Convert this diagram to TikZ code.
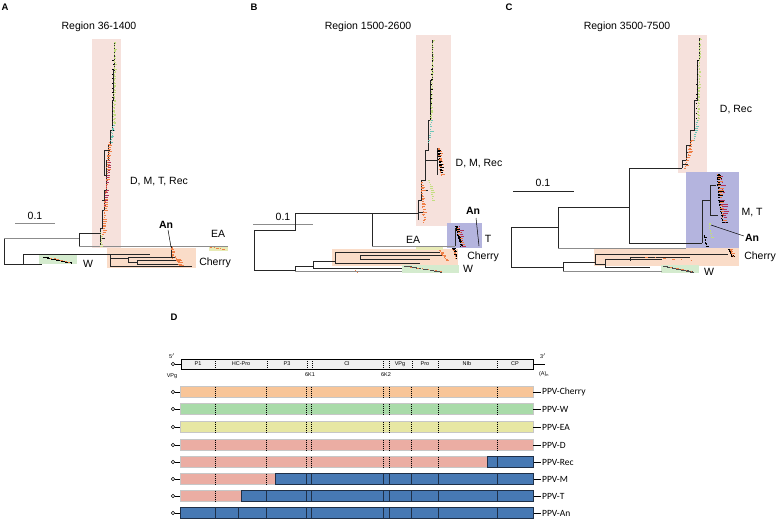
\documentclass[tikz,border=0pt]{standalone}
\usepackage{fontspec}
\setmainfont{Liberation Sans}
\newfontfamily\carl{Carlito}
\definecolor{pinkbox}{HTML}{F6E1DC}
\definecolor{cherrybox}{HTML}{FADCC8}
\definecolor{wbox}{HTML}{D4EBCE}
\definecolor{eabox}{HTML}{E8EBB6}
\definecolor{bluebox}{HTML}{B4B4DE}
\definecolor{lgreen}{HTML}{C2DE80}
\definecolor{lteal}{HTML}{6CC6B8}
\definecolor{lorange}{HTML}{F08048}
\definecolor{lred}{HTML}{B03058}
\definecolor{barcherry}{HTML}{F8C598}
\definecolor{barw}{HTML}{A9DBA9}
\definecolor{barea}{HTML}{E7E7A3}
\definecolor{bard}{HTML}{EBADA3}
\definecolor{barblue}{HTML}{4779B4}
\definecolor{bluedark}{HTML}{1F3048}
\newcommand\lf[7]{%
  \foreach \i in {0,...,#5}{%
    \pgfmathsetmacro\xx{#1+(#3-#1)*\i/#5+rnd*1.0}%
    \pgfmathsetmacro\yy{#2+(#4-#2)*\i/#5}%
    \pgfmathsetmacro\ll{0.5+rnd*#6*0.6}%
    \draw[#7,line width=0.55pt] (\xx,\yy) -- ++(\ll,0);
  }}
\begin{document}
\begin{tikzpicture}[x=1pt,y=-1pt,
  tr/.style={line width=0.7pt,draw=black!85},
  trg/.style={line width=0.7pt,draw=black!45},
  lbl/.style={font=\fontsize{10.5}{12}\selectfont,inner sep=0},
  bl/.style={font=\bfseries\fontsize{10.5}{12}\selectfont,inner sep=0},
  pl/.style={font=\bfseries\fontsize{9.5}{10}\selectfont,inner sep=0},
  gl/.style={font=\fontsize{5.5}{6}\selectfont,inner sep=0},
  pv/.style={font=\carl\fontsize{9.5}{10}\selectfont,inner sep=0,anchor=west},
  dv/.style={line width=0.5pt,dash pattern=on 1.2pt off 0.8pt},
  sv/.style={line width=0.6pt,draw=bluedark}]
\pgfmathsetseed{7}
\useasboundingbox (0,0) rectangle (778,520);
\fill[white] (0,0) rectangle (778,520);
% panel letters
\node[pl] (pa) at (5,7) {A};
\node[pl] (pb) at (254,7) {B};
\node[pl] (pc) at (509,7) {C};
\node[pl] (pd) at (174,317) {D};
% ================= Panel A =================
\node[lbl] (ta) at (99,27) {Region 36-1400};
\fill[pinkbox] (92,39) rectangle (121,248);
\fill[cherrybox] (107,248) rectangle (196,268);
\fill[wbox] (39,255) rectangle (77,264);
\fill[eabox] (209,246) rectangle (228,251);
\draw[trg] (15,223) -- (55,223);
\node[lbl] (sa) at (35,216) {0.1};
\draw[tr] (4,238) -- (4,264);
\draw[trg] (4,238) -- (79,238);
\draw[tr] (79,233) -- (79,246);
\draw[tr] (79,233) -- (100,233);
\draw[trg] (79,246) -- (228,246);
\draw[tr] (4,264) -- (42,264);
\draw[tr] (23,264) -- (23,254) -- (110,254);
\draw[tr] (110,254) -- (110,266) -- (192,266);
\draw[tr] (110,258) -- (128,258);
\draw[tr] (128,257) -- (128,262);
\draw[tr] (128,257) -- (175,257);
\draw[tr] (128,262) -- (137,262);
\draw[tr] (137,260) -- (137,264);
\draw[tr] (137,260) -- (178,260);
\draw[tr] (137,264) -- (180,264);
\draw[tr] (110,254) -- (150,254);
\draw[tr] (171,246) -- (171,258);
\lf{171}{247}{172}{258}{8}{5}{lorange}
\lf{174}{256}{178}{265}{8}{10}{lorange}
\lf{42}{257}{70}{263}{20}{6}{black}
\lf{50}{258}{68}{262}{6}{4}{lorange}
\lf{210}{247}{222}{249}{4}{4}{lorange}
\draw[tr] (100,245) -- (100,228) -- (102,228) -- (102,210) -- (104,210) -- (104,190) -- (106,190) -- (106,160) -- (108,160) -- (108,145) -- (110,145) -- (110,130) -- (112,130) -- (112,100) -- (113,100) -- (113,70) -- (114,70) -- (114,42);
\draw[tr] (104,150) -- (110,150) (104,150) -- (104,175) -- (108,175) (102,200) -- (107,200) (100,238) -- (105,238);
\lf{114}{42}{113}{125}{60}{3}{lgreen}
\lf{112}{125}{110}{142}{12}{5}{lteal}
\lf{108}{142}{102}{234}{50}{6}{lorange}
\lf{108}{160}{104}{205}{18}{5}{lred}
\lf{112}{60}{112}{130}{15}{2}{black}
\lf{100}{232}{100}{246}{7}{4}{lgreen}
\node[lbl] (la1) at (159,182) {D, M, T, Rec};
\node[bl] (an1) at (166,225) {An};
\draw[line width=0.5pt] (an1.south) ++(2,1) -- (171,247);
\node[lbl] (ea1) at (218,234) {EA};
\node[lbl] (ch1) at (215,263) {Cherry};
\node[lbl] (w1) at (88,264) {W};
% ================= Panel B =================
\node[lbl] (tb) at (368,27) {Region 1500-2600};
\fill[pinkbox] (416,35) rectangle (451,226);
\fill[cherrybox] (332,249) rectangle (458,266);
\fill[wbox] (402,265) rectangle (459,273);
\fill[eabox] (416,247) rectangle (443,250);
\fill[bluebox] (447,223) rectangle (482,248);
\draw[trg] (253,224) -- (313,224);
\node[lbl] (sb) at (283,217) {0.1};
\draw[tr] (254,230) -- (254,270);
\draw[tr] (254,230) -- (295,230) -- (295,213) -- (418,213);
\draw[tr] (372,213) -- (372,246);
\draw[trg] (372,246) -- (455,246);
\draw[tr] (254,270) -- (295,270);
\draw[tr] (295,266) -- (295,271);
\draw[tr] (295,266) -- (313,266);
\draw[trg] (295,271) -- (402,271);
\draw[tr] (313,261) -- (313,268);
\draw[tr] (313,261) -- (335,261);
\draw[tr] (313,268) -- (402,268);
\draw[tr] (335,252) -- (335,263);
\draw[tr] (335,252) -- (440,252);
\draw[tr] (335,263) -- (420,263);
\draw[tr] (360,255) -- (360,259) (360,255) -- (445,255) (360,259) -- (430,259);
\lf{438}{250}{446}{260}{10}{6}{lorange}
\lf{452}{248}{455}{258}{8}{5}{black}
\lf{452}{249}{455}{258}{6}{4}{lorange}
\lf{404}{266}{440}{272}{16}{12}{black!70}
\lf{410}{267}{440}{271}{5}{6}{lorange}
\lf{355}{270}{356}{272}{1}{2}{lorange}
\draw[tr] (418,220) -- (418,200) -- (421,200) -- (421,180) -- (425,180) -- (425,150) -- (428,150) -- (428,120) -- (430,120) -- (430,80) -- (432,80) -- (432,40);
\draw[tr] (425,160) -- (437,160) (437,148) -- (437,175) (421,190) -- (428,190) (418,212) -- (424,212);
\lf{432}{40}{430}{120}{55}{3}{lgreen}
\lf{430}{120}{428}{142}{10}{6}{lteal}
\lf{437}{148}{440}{175}{22}{7}{lorange}
\lf{437}{150}{440}{172}{14}{5}{black}
\lf{428}{180}{432}{200}{10}{6}{lgreen}
\lf{420}{182}{423}{222}{25}{7}{lorange}
\lf{431}{60}{430}{118}{12}{2}{black}
\draw[tr] (455,246) -- (455,228);
\lf{455}{226}{460}{246}{18}{6}{black}
\lf{458}{226}{462}{246}{10}{7}{lred}
\lf{456}{228}{462}{244}{8}{6}{lorange}
\node[lbl] (lb1) at (479,164) {D, M, Rec};
\node[bl] (an2) at (473,211) {An};
\draw[line width=0.5pt] (476,218) -- (479,246);
\node[lbl] (tt2) at (488,239) {T};
\node[lbl] (ea2) at (413,240) {EA};
\node[lbl] (ch2) at (483,257) {Cherry};
\node[lbl] (w2) at (468,269) {W};
% ================= Panel C =================
\node[lbl] (tc) at (627,27) {Region 3500-7500};
\fill[pinkbox] (678,35) rectangle (707,173);
\fill[bluebox] (686,172) rectangle (739,248);
\fill[cherrybox] (594,248) rectangle (739,266);
\fill[wbox] (661,265) rectangle (699,273);
\draw[tr] (513,191) -- (574,191);
\node[lbl] (sc) at (543,183) {0.1};
\draw[tr] (511,227) -- (511,267);
\draw[tr] (511,227) -- (558,227);
\draw[tr] (558,207) -- (558,248);
\draw[tr] (558,207) -- (629,207);
\draw[tr] (629,168) -- (629,243);
\draw[tr] (629,168) -- (682,168);
\draw[tr] (629,243) -- (702,243);
\draw[trg] (558,248) -- (686,248);
\draw[tr] (511,267) -- (563,267);
\draw[tr] (563,262) -- (563,271);
\draw[tr] (563,262) -- (595,262);
\draw[trg] (563,271) -- (662,271);
\draw[tr] (595,254) -- (595,264);
\draw[tr] (595,254) -- (728,254);
\draw[tr] (595,264) -- (605,264);
\draw[tr] (605,259) -- (605,267);
\draw[tr] (605,259) -- (662,259);
\draw[tr] (605,267) -- (650,267);
\draw[tr] (630,257) -- (630,261) (630,257) -- (690,257);
\lf{728}{249}{731}{256}{8}{6}{black}
\lf{729}{249}{732}{256}{6}{5}{lorange}
\lf{645}{257}{690}{260}{5}{4}{lorange}
\lf{662}{266}{690}{272}{14}{10}{black!70}
\lf{670}{267}{690}{271}{4}{5}{lorange}
\draw[tr] (682,168) -- (682,160) -- (686,160) -- (686,145) -- (690,145) -- (690,130) -- (694,130) -- (694,100) -- (697,100) -- (697,60) -- (699,60) -- (699,38);
\draw[tr] (686,152) -- (692,152) (682,164) -- (688,164);
\lf{699}{38}{697}{120}{55}{3}{lgreen}
\lf{696}{120}{693}{140}{10}{5}{lteal}
\lf{690}{140}{684}{168}{18}{7}{lorange}
\lf{697}{60}{695}{118}{12}{2}{black}
\draw[tr] (702,200) -- (702,243);
\draw[tr] (702,200) -- (710,200);
\draw[tr] (710,185) -- (710,215);
\draw[tr] (710,185) -- (716,185) (710,215) -- (718,215);
\lf{716}{174}{718}{197}{16}{8}{black}
\lf{717}{174}{719}{197}{10}{8}{lorange}
\lf{720}{176}{722}{192}{5}{6}{lred}
\lf{718}{200}{722}{222}{16}{9}{black}
\lf{720}{200}{724}{222}{10}{10}{lred}
\lf{719}{202}{722}{220}{6}{7}{lorange}
\lf{708}{223}{710}{237}{8}{4}{lgreen}
\lf{703}{235}{705}{246}{8}{5}{black}
\node[lbl] (lc1) at (736,110) {D, Rec};
\node[lbl] (mt3) at (752,213) {M, T};
\node[bl] (an3) at (752,238) {An};
\draw[line width=0.5pt] (an3.west) ++(-1,-2) -- (711,225);
\node[lbl] (ch3) at (760,257) {Cherry};
\node[lbl] (w3) at (709,272) {W};
% ================= Panel D =================
\draw[line width=0.6pt,fill=black!6] (181,359) rectangle (533,369);
\foreach \x in {215,267,307,312,383,389,412,438,497}{\draw[dv] (\x,359) -- (\x,369);}
\draw[line width=0.6pt] (175,364) -- (181,364);
\draw[line width=0.6pt,fill=white] (173,364) circle (1.8);
\draw[line width=0.9pt] (533,364) -- (545,364);
\node[gl] (g1) at (198,364) {P1};
\node[gl] (g2) at (241,364) {HC-Pro};
\node[gl] (g3) at (287,364) {P3};
\node[gl] (g4) at (347,364) {CI};
\node[gl] (g5) at (400,364) {VPg};
\node[gl] (g6) at (425,364) {Pro};
\node[gl] (g7) at (467,364) {NIb};
\node[gl] (g8) at (515,364) {CP};
\node[gl] (g9) at (310,375) {6K1};
\node[gl] (g10) at (386,375) {6K2};
\node[gl] (g11) at (172,356) {5$'$};
\node[gl] (g12) at (172,376) {VPg};
\node[gl] (g13) at (543,356) {3$'$};
\node[gl] (g14) at (544,374) {(A)$_{\mathrm{n}}$};
% bars
\foreach \yc/\col/\name in {392/barcherry/Cherry,409/barw/W,427/barea/EA,445/bard/D,462/bard/Rec,479/bard/M,496/bard/T,513/bard/An}{
  \draw[line width=0.8pt,draw=black!22,fill=\col] (180,\yc-5.5) rectangle (533,\yc+5.5);
  \foreach \x in {215,266,306,311,383,389,411,438,497}{\draw[dv] (\x,\yc-5.5) -- (\x,\yc+5.5);}
  \draw[line width=0.6pt] (175,\yc) -- (180,\yc);
  \draw[line width=0.6pt,fill=white] (173,\yc) circle (1.8);
  \draw[line width=0.9pt] (533,\yc) -- (541,\yc);
  \node[pv] (pv\name) at (542,\yc) {PPV-\name};
}
\foreach \yc/\xb in {462/487,479/275,496/241,513/180}{
  \draw[line width=0.8pt,draw=bluedark,fill=barblue] (\xb,\yc-5.5) rectangle (533,\yc+5.5);
  \foreach \x in {215,238,266,306,311,383,389,411,438,497}{
    \pgfmathparse{\x>\xb+1 ? 1 : 0}
    \ifnum\pgfmathresult=1 \draw[sv] (\x,\yc-5.5) -- (\x,\yc+5.5);\fi}
}
\end{tikzpicture}
\end{document}
